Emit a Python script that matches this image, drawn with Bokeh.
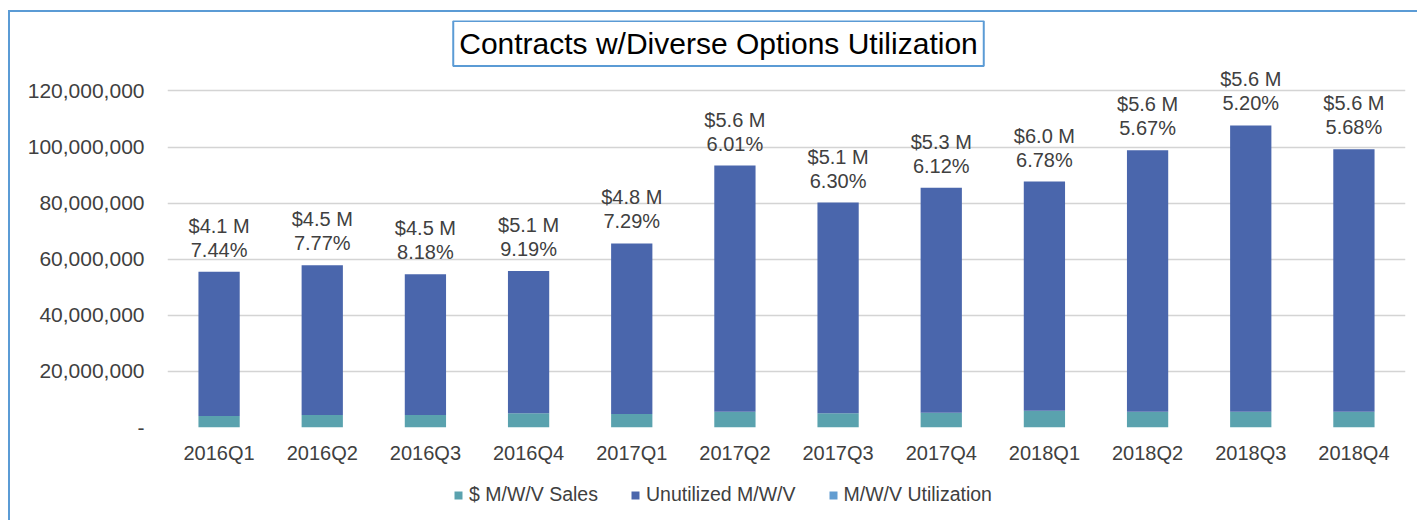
from bokeh.plotting import figure
from bokeh.layouts import column, row
from bokeh.models import (ColumnDataSource, FactorRange, Range1d, FixedTicker, Label,
                          Legend, LegendItem, Spacer)
from bokeh.embed import file_html
from bokeh.resources import INLINE
from bokeh.core.properties import value

quarters = ["2016Q1", "2016Q2", "2016Q3", "2016Q4", "2017Q1", "2017Q2",
            "2017Q3", "2017Q4", "2018Q1", "2018Q2", "2018Q3", "2018Q4"]
sales_m = [4.1, 4.5, 4.5, 5.1, 4.8, 5.6, 5.1, 5.3, 6.0, 5.6, 5.6, 5.6]
total_m = [55.5, 57.8, 54.6, 55.8, 65.6, 93.4, 80.2, 85.5, 87.7, 98.8, 107.7, 99.2]
util_pct = [7.44, 7.77, 8.18, 9.19, 7.29, 6.01, 6.30, 6.12, 6.78, 5.67, 5.20, 5.68]
y_ticks = [0, 20000000, 40000000, 60000000, 80000000, 100000000, 120000000]
y_tick_labels = ["-", "20,000,000", "40,000,000", "60,000,000", "80,000,000",
                 "100,000,000", "120,000,000"]
series_names = ["$ M/W/V Sales", "Unutilized M/W/V", "M/W/V Utilization"]
series_colors = ["#5AA2AE", "#4A66AC", "#629DD1"]

FONT = "Liberation Sans"
TXT = "#404040"
BORDER = "#5B9BD5"
W = 1407

sales = [s * 1e6 for s in sales_m]
total = [t * 1e6 for t in total_m]
unutil = [t - s for t, s in zip(total, sales)]

src = ColumnDataSource(dict(
    q=quarters, sales=sales, unutil=unutil, total=total,
    lab1=["$%.1f M" % s for s in sales_m],
    lab2=["%.2f%%" % p for p in util_pct],
))

p = figure(width=W, height=460, output_backend="svg", toolbar_location=None,
           x_range=FactorRange(*quarters, range_padding=0),
           y_range=Range1d(0, 145.1e6),
           min_border_left=157, min_border_right=W - 1395, min_border_top=8,
           min_border_bottom=45)
p.outline_line_color = None
p.background_fill_color = "white"
p.border_fill_color = "white"

p.vbar(x="q", bottom=0, top="sales", width=0.4, source=src,
       fill_color=series_colors[0], line_color=None)
p.vbar(x="q", bottom="sales", top="total", width=0.4, source=src,
       fill_color=series_colors[1], line_color=None)

p.text(x="q", y="total", text="lab2", source=src, y_offset=-22,
       text_align="center", text_baseline="alphabetic",
       text_font=value(FONT), text_font_size="20px", text_color=TXT)
p.text(x="q", y="total", text="lab1", source=src, y_offset=-46,
       text_align="center", text_baseline="alphabetic",
       text_font=value(FONT), text_font_size="20px", text_color=TXT)

# axes
p.yaxis.ticker = FixedTicker(ticks=y_ticks)
p.yaxis.major_label_overrides = {t: l for t, l in zip(y_ticks, y_tick_labels)}
p.yaxis.axis_line_color = None
p.yaxis.major_tick_line_color = None
p.yaxis.minor_tick_line_color = None
p.yaxis.major_tick_out = 0
p.yaxis.major_label_standoff = 23
p.yaxis.major_label_text_font = FONT
p.yaxis.major_label_text_font_size = "21px"
p.yaxis.major_label_text_color = TXT

p.xaxis.axis_line_color = None
p.xaxis.major_tick_line_color = None
p.xaxis.major_tick_out = 0
p.xaxis.major_label_standoff = 14
p.xaxis.major_label_text_font = FONT
p.xaxis.major_label_text_font_size = "20px"
p.xaxis.major_label_text_color = TXT

p.xgrid.grid_line_color = None
p.ygrid.ticker = FixedTicker(ticks=y_ticks)
p.ygrid.grid_line_color = "#D4D4D4"
p.ygrid.grid_line_width = 1.5

# title box
title = Label(x=551, y=384, x_units="screen", y_units="screen",
              text="Contracts w/Diverse Options Utilization",
              text_align="center", text_baseline="middle",
              text_font=FONT, text_font_size="30px", text_color="#000000",
              border_line_color=BORDER, border_line_width=2,
              background_fill_color="white", padding=6)
p.add_layout(title)

# legend strip (its frame is aligned with the main plot's frame)
lg = figure(width=W, height=48, output_backend="svg", toolbar_location=None,
            x_axis_type=None, y_axis_type=None,
            x_range=Range1d(0, 1), y_range=Range1d(0, 1),
            min_border=0)
lg.outline_line_color = None
lg.xgrid.grid_line_color = None
lg.ygrid.grid_line_color = None
lg.border_fill_color = "white"
items = []
for name, col in zip(series_names, series_colors):
    r = lg.vbar(x=[0.5], bottom=[0], top=[0], width=0.001, fill_color=col, line_color=None)
    items.append(LegendItem(label=name, renderers=[r]))
legend = Legend(items=items, orientation="horizontal", location=(286, 14))
legend.padding = 0
legend.margin = 0
legend.border_line_color = None
legend.background_fill_alpha = 0
legend.glyph_width = 10
legend.glyph_height = 10
legend.label_standoff = 6
legend.spacing = 32
legend.label_text_font = FONT
legend.label_text_font_size = "19.5px"
legend.label_text_color = TXT
lg.add_layout(legend)

# chart frame: left and top blue rules
left_rule = Spacer(width=2, height=510, styles={"background-color": BORDER})
top_rule = Spacer(width=W, height=2, styles={"background-color": BORDER})
inner = row(left_rule, column(top_rule, p, lg, spacing=0), spacing=0)
layout = row(Spacer(width=8, height=520),
             column(Spacer(width=W + 2, height=10), inner, spacing=0),
             spacing=0)

open("out.html", "w").write(file_html(layout, INLINE))
